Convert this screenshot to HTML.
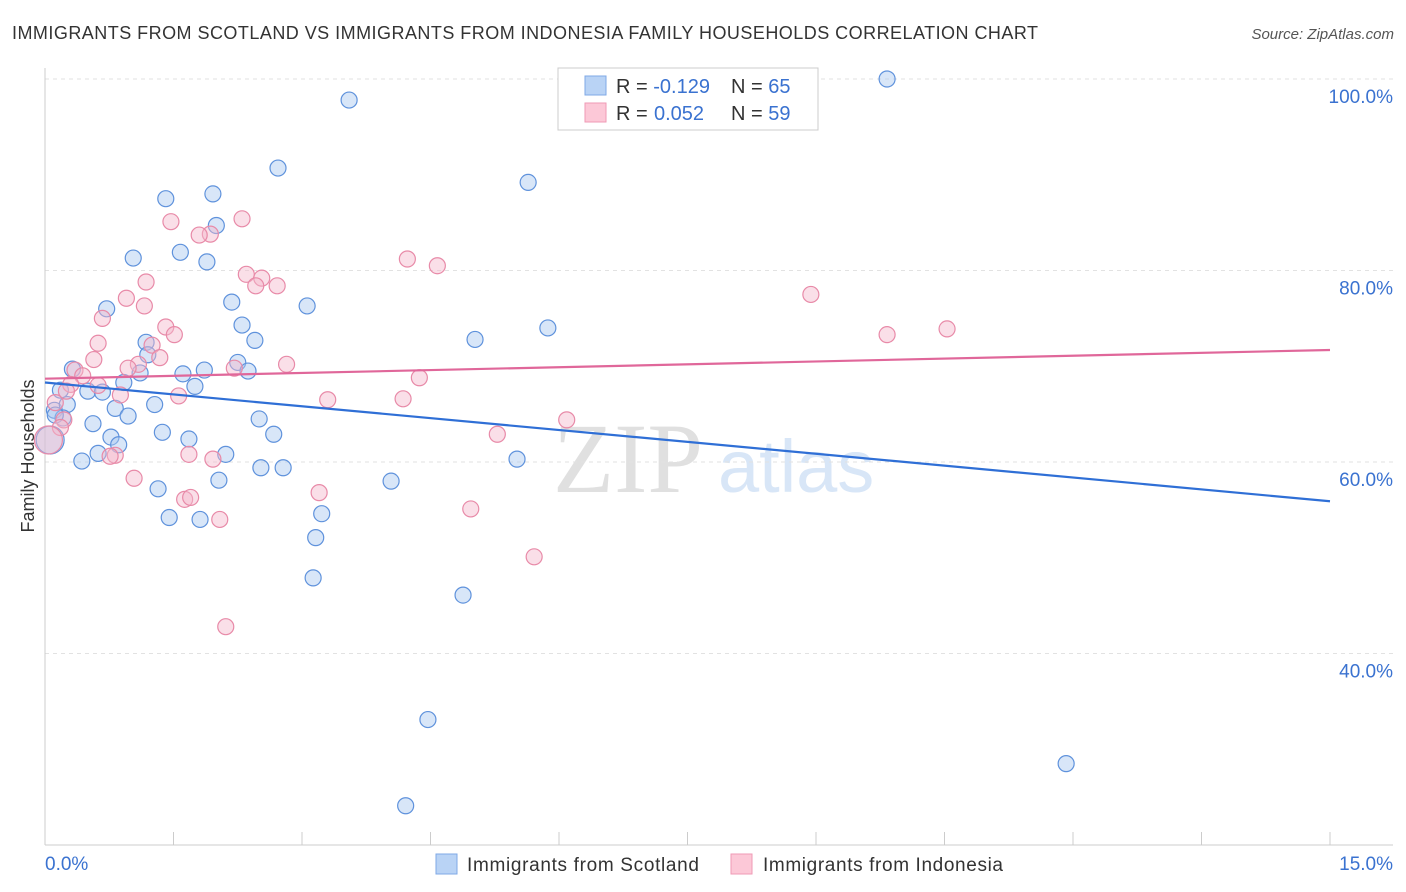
<!DOCTYPE html>
<html><head><meta charset="utf-8"><style>
body{margin:0;background:#fff;font-family:"Liberation Sans",sans-serif;}
svg{display:block}
</style></head><body>
<svg id="c" width="1406" height="892" xmlns="http://www.w3.org/2000/svg">
<text x="12" y="39" font-size="18" fill="#333" textLength="1026">IMMIGRANTS FROM SCOTLAND VS IMMIGRANTS FROM INDONESIA FAMILY HOUSEHOLDS CORRELATION CHART</text>
<text x="1394" y="39" font-size="15" fill="#555" text-anchor="end" font-style="italic">Source: ZipAtlas.com</text>
<text x="34" y="456" font-size="18" fill="#333" text-anchor="middle" transform="rotate(-90 34 456)">Family Households</text>
<text x="553" y="492" font-size="100" fill="#e0e0e0" font-family="Liberation Serif,serif">ZIP</text>
<text x="718" y="492" font-size="74" fill="#d8e6f7">atlas</text>
<g id="grid"></g><g id="pts"></g><g id="lines"></g>
<g>
<rect x="558" y="68" width="260" height="62" fill="#fff" stroke="#ccc"/>
<rect x="585" y="76" width="21" height="19" fill="#b9d3f5" stroke="#7fa8e6"/>
<rect x="585" y="103" width="21" height="19" fill="#fcc8d7" stroke="#ef9ab5"/>
<text x="616" y="93" font-size="20" fill="#333">R = <tspan fill="#3a72d0">-0.129</tspan><tspan x="731">N = </tspan><tspan fill="#3a72d0">65</tspan></text>
<text x="616" y="120" font-size="20" fill="#333">R = <tspan fill="#3a72d0" x="654">0.052</tspan><tspan x="731">N = </tspan><tspan fill="#3a72d0">59</tspan></text>
</g>
<g>
<rect x="436" y="854" width="21" height="20" fill="#b9d3f5" stroke="#7fa8e6"/>
<text x="467" y="871" font-size="19" fill="#333" textLength="232">Immigrants from Scotland</text>
<rect x="731" y="854" width="21" height="20" fill="#fcc8d7" stroke="#ef9ab5"/>
<text x="763" y="871" font-size="19" fill="#333" textLength="240">Immigrants from Indonesia</text>
</g>
<text x="45" y="870" font-size="19" fill="#3a72d0">0.0%</text>
<text x="1393" y="870" font-size="19" fill="#3a72d0" text-anchor="end">15.0%</text>
</svg>
<script>
const yTicks=[100,80,60,40];
const blueX=[9.83,3.55,2.72,5.64,1.41,1.96,2.00,1.58,1.89,1.03,0.72,2.18,3.06,2.30,2.45,1.18,1.20,5.87,5.02,2.25,2.37,1.86,1.61,1.11,1.75,0.92,0.50,0.67,0.32,0.18,0.11,0.26,0.21,0.82,0.97,1.28,0.56,0.77,0.86,1.37,1.68,2.50,2.67,2.11,0.62,0.43,1.32,2.03,2.52,2.78,5.51,4.04,3.23,3.16,1.45,1.81,3.13,4.88,4.47,4.21,11.92,0.06,0.12];
const blueY=[100,97.8,90.7,89.2,87.5,88.0,84.7,81.9,80.9,81.3,76.0,76.7,76.3,74.3,72.7,72.5,71.2,74.0,72.8,70.4,69.5,69.6,69.2,69.3,67.9,68.3,67.4,67.3,69.7,67.5,65.4,66.0,64.6,65.6,64.8,66.0,64.0,62.6,61.8,63.1,62.4,64.5,62.9,60.8,60.9,60.1,57.2,58.1,59.4,59.4,60.3,58.0,54.6,52.1,54.2,54.0,47.9,46.1,33.1,24.1,28.5,62.3,64.9];
const pinkX=[1.47,2.30,1.93,1.80,4.23,4.58,2.35,2.53,1.18,2.46,2.71,0.95,1.16,0.67,8.94,10.53,9.83,1.41,1.51,0.62,1.25,0.57,1.34,1.09,0.97,2.21,2.82,0.35,0.44,0.30,0.62,0.88,1.56,3.30,4.18,4.37,6.09,5.28,0.12,0.22,0.18,0.04,0.82,0.76,1.96,1.68,1.04,1.63,1.70,3.20,4.97,2.04,5.71,2.11,0.25];
const pinkY=[85.1,85.4,83.8,83.7,81.2,80.5,79.6,79.2,78.8,78.4,78.4,77.1,76.3,75.0,77.5,73.9,73.3,74.1,73.3,72.4,72.2,70.7,70.9,70.2,69.8,69.8,70.2,69.6,69.0,68.1,68.0,67.0,66.9,66.5,66.6,68.8,64.4,62.9,66.2,64.4,63.6,62.3,60.7,60.6,60.3,60.8,58.3,56.1,56.3,56.8,55.1,54.0,50.1,42.8,67.4];
const blueTrend=[68.3,55.9];
const pinkTrend=[68.7,71.7];
const NS="http://www.w3.org/2000/svg";
const sx=v=>45+v/15*1285, sy=v=>79+(100-v)/20*191.5;
function mk(t,a,p){const e=document.createElementNS(NS,t);for(const k in a)e.setAttribute(k,a[k]);p.appendChild(e);return e;}
const g=document.getElementById('grid');
yTicks.forEach(t=>{const l=mk('line',{x1:45,x2:1393,y1:sy(t),y2:sy(t),stroke:'#e2e2e2','stroke-dasharray':'4 4'},g);


const tx=mk('text',{x:1393,y:sy(t)+24,'font-size':19,fill:'#3a72d0','text-anchor':'end'},g);tx.textContent=t.toFixed(1)+'%';

});
const ax=mk('line',{x1:45,x2:1393,y1:845,y2:845,stroke:'#ccc'},g);


const ay=mk('line',{x1:45,x2:45,y1:68,y2:845,stroke:'#ccc'},g);


for(let i=0;i<=10;i++){const t=mk('line',{x1:sx(i*1.5),x2:sx(i*1.5),y1:832,y2:845,stroke:'#ccc'},g);

}
const P=document.getElementById('pts');
function pts(X,Y,f,s,n){X.forEach((x,i)=>{const c=mk('circle',{cx:sx(x),cy:sy(Y[i]),r:(x<0.08?14:8),fill:f,'fill-opacity':0.45,stroke:s,'stroke-width':1.2},P);

});}
pts(blueX,blueY,'#a9c8f0','#5f92dc','scotland-point');
pts(pinkX,pinkY,'#f5b8cb','#e88aa8','indonesia-point');
const L=document.getElementById('lines');
const bl=mk('line',{x1:sx(0),x2:sx(15),y1:sy(blueTrend[0]),y2:sy(blueTrend[1]),stroke:'#2f6fd6','stroke-width':2.2},L);


const pl=mk('line',{x1:sx(0),x2:sx(15),y1:sy(pinkTrend[0]),y2:sy(pinkTrend[1]),stroke:'#e0679a','stroke-width':2.2},L);


</script>
</body></html>
